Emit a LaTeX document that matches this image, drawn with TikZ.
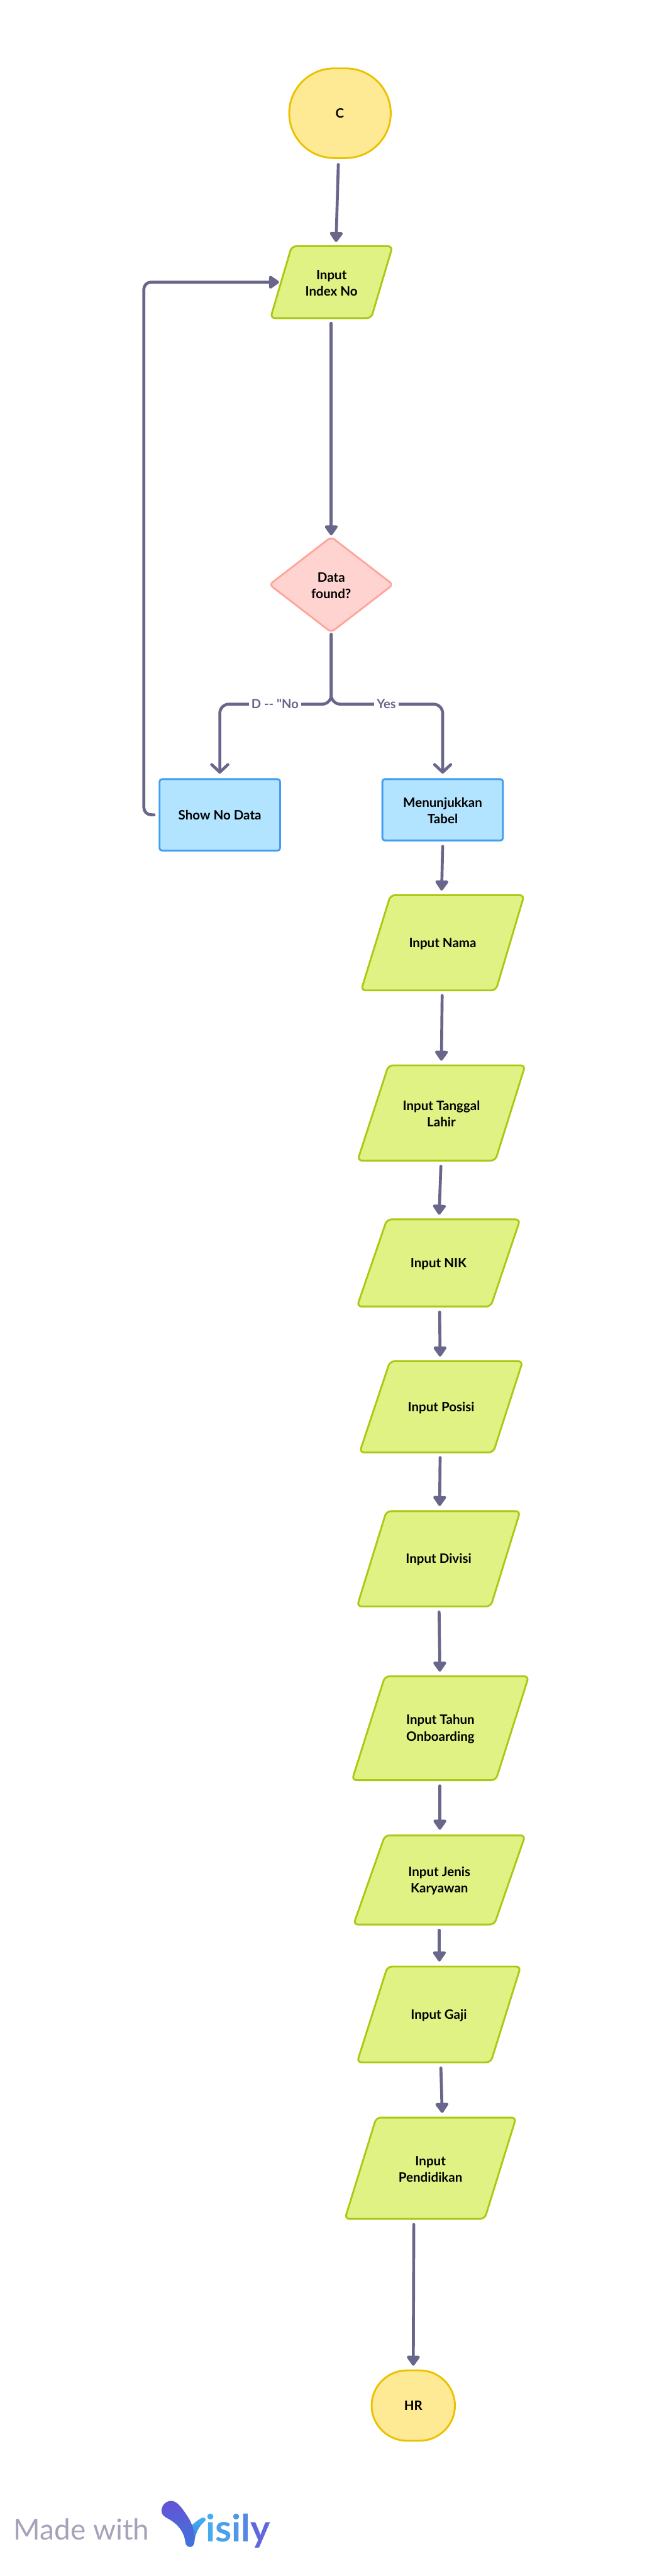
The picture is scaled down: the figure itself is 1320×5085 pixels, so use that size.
\documentclass[tikz,border=0pt]{standalone}
\usepackage{fontspec}
\usetikzlibrary{arrows.meta,calc}
\newfontfamily\nfont{Lato}
\definecolor{linec}{HTML}{68668A}
\definecolor{yfill}{HTML}{FEE994}
\definecolor{ydraw}{HTML}{ECC100}
\definecolor{gfill}{HTML}{E1F285}
\definecolor{gdraw}{HTML}{AEC714}
\definecolor{pfill}{HTML}{FFD4D0}
\definecolor{pdraw}{HTML}{FFA59C}
\definecolor{bfill}{HTML}{B3E4FF}
\definecolor{bdraw}{HTML}{439EF2}
\definecolor{logoa}{HTML}{6553D5}
\definecolor{logob}{HTML}{3F74DB}
\definecolor{logoc}{HTML}{44B2F0}
\definecolor{logod}{HTML}{3A7CDC}
\newcommand\lowr{\rule{0pt}{22.5pt}}
\tikzset{
  x=1pt,y=-1pt,
  txt/.style={font=\nfont\fontsize{25.5}{33}\selectfont\bfseries,align=center,text=black,inner sep=0pt},
  pgramshape/.style={draw=gdraw,fill=gfill,line width=3.6pt,rounded corners=9pt,line join=round},
  boxnode/.style={txt,rectangle,draw=bdraw,fill=bfill,line width=3.6pt,rounded corners=5pt},
  termshape/.style={draw=ydraw,fill=yfill,line width=3.6pt},
  decshape/.style={draw=pdraw,fill=pfill,line width=3.6pt,rounded corners=8pt,line join=round},
  flow/.style={draw=linec,line width=5.8pt,line cap=round,-{Triangle[length=22pt,width=29pt,round]}},
  flowopen/.style={draw=linec,line width=5.8pt,line cap=round,rounded corners=18pt,-{Straight Barb[length=15pt,width=32pt,round]}},
  plainflow/.style={draw=linec,line width=5.8pt,line cap=round,rounded corners=14pt,-{Triangle[length=22pt,width=29pt,round]}},
  lbl/.style={font=\nfont\fontsize{25}{28}\selectfont\bfseries,text=linec,fill=white,inner sep=0pt,inner xsep=5pt},
}
% name, TLx, TRx, BLx, BRx, top, bottom, text
\newcommand\pgram[8]{%
  \draw[pgramshape] (#2,#6) -- (#3,#6) -- (#5,#7) -- (#4,#7) -- cycle;
  \path let \n1={#3-#4}, \n2={#7-#6} in
    node[txt,rectangle,minimum width=\n1*1pt,minimum height=\n2*1pt] (#1) at ({(#3+#4)/2},{(#6+#7)/2}) {\lowr #8};
}
\begin{document}
\begin{tikzpicture}
\useasboundingbox (0,0) rectangle (1320,5085);
% terminators
\draw[termshape] (659.75,135) -- (682.75,135)
  arc[start angle=90,end angle=-90,x radius=88.75pt,y radius=88.5pt]
  -- (659.75,312) arc[start angle=-90,end angle=-270,x radius=88.75pt,y radius=88.5pt] -- cycle;
\node[txt,rectangle,minimum width=204pt,minimum height=181pt] (st) at (671,224) {C};
\pgram{inp}{576}{775}{534}{733}{486}{628}{Input\\Index No}
\draw[decshape] (654,1060) -- (776,1154) -- (654,1248) -- (532,1154) -- cycle;
\node[txt,rectangle,minimum width=238pt,minimum height=178pt] (dec) at (654,1154) {\lowr Data\\found?};
\node[boxnode,minimum width=238pt,minimum height=141pt] (nod) at (434,1608.5) {Show No Data};
\node[boxnode,minimum width=238pt,minimum height=121pt] (tab) at (874,1598.5) {\lowr Menunjukkan\\Tabel};
\pgram{nama}{771}{1035}{713}{979}{1767}{1955}{Input Nama}
\pgram{tgl}{767}{1037}{706}{978}{2103}{2291}{Input Tanggal\\Lahir}
\pgram{nik}{764}{1027}{705}{969}{2407}{2579}{Input NIK}
\pgram{pos}{770}{1032}{710}{974}{2687}{2867}{Input Posisi}
\pgram{div}{763}{1027}{705}{969}{2983}{3171}{Input Divisi}
\pgram{thn}{760}{1044}{695}{979}{3309}{3514}{Input Tahun\\Onboarding}
\pgram{jns}{760}{1037}{698}{976}{3623}{3799}{Input Jenis\\Karyawan}
\pgram{gaji}{765}{1028}{705}{969}{3882}{4071}{Input Gaji}
\pgram{pend}{743}{1019}{681}{957}{4180}{4380}{Input\\Pendidikan}
\draw[termshape] (804,4679) -- (828,4679)
  arc[start angle=90,end angle=-90,x radius=70.25pt,y radius=69.5pt]
  -- (804,4818) arc[start angle=-90,end angle=-270,x radius=70.25pt,y radius=69.5pt] -- cycle;
\node[txt,rectangle,minimum width=168pt,minimum height=143pt] (hr) at (816,4748.5) {HR};
% connectors
\draw[flow] ([xshift=-3pt,yshift=-10pt]st.south) -- ([xshift=9pt,yshift=8pt]inp.north);
\draw[flow] ([yshift=-10pt]inp.south -| dec.north) -- ([yshift=8pt]dec.north);
\coordinate (jn) at (654,1390);
\draw[flowopen] ([yshift=-9pt]dec.south) -- (jn) -- (jn -| nod.north) -- ([yshift=9pt]nod.north);
\draw[flowopen] ([yshift=-9pt]dec.south) -- (jn) -- (jn -| tab.north) -- ([yshift=9pt]tab.north);
\node[lbl] (lno) at (543,1390) {D -- "No};
\node[lbl] (lyes) at (763,1390) {Yes};
\coordinate (lpa) at (284,1608);
\coordinate (lpb) at (284,557);
\coordinate (lpc) at (551,557);
\draw[plainflow] ([xshift=-9pt]nod.west) -- (lpa) -- (lpb) -- (lpc);
\draw[flow] ([yshift=-10pt]tab.south) -- ([xshift=-2pt,yshift=9pt]nama.north);
\draw[flow] ([xshift=-1pt,yshift=-10pt]nama.south) -- ([xshift=0pt,yshift=9pt]tgl.north);
\draw[flow] ([xshift=-1pt,yshift=-11pt]tgl.south) -- ([xshift=1pt,yshift=9pt]nik.north);
\draw[flow] ([xshift=2pt,yshift=-11pt]nik.south) -- ([xshift=-2pt,yshift=9pt]pos.north);
\draw[flow] ([xshift=-2pt,yshift=-10pt]pos.south) -- ([xshift=2pt,yshift=10pt]div.north);
\draw[flow] ([xshift=1pt,yshift=-11pt]div.south) -- ([xshift=-1pt,yshift=9pt]thn.north);
\draw[flow] ([xshift=-1pt,yshift=-11pt]thn.south) -- ([xshift=1pt,yshift=11pt]jns.north);
\draw[flow] ([xshift=0pt,yshift=-11pt]jns.south) -- ([xshift=1pt,yshift=10pt]gaji.north);
\draw[flow] ([xshift=4pt,yshift=-11pt]gaji.south) -- ([xshift=23pt,yshift=9pt]pend.north);
\draw[flow] ([xshift=-33pt,yshift=-11pt]pend.south) -- ([yshift=7pt]hr.north);
% footer
\node[anchor=base west,inner sep=0pt,text=linec!60,font=\nfont\fontsize{57}{60}\selectfont] (made) at (27,5013) {Made with};
\begin{scope}[shift={(300,4920)},x=0.3333pt,y=-0.3333pt]
  \shade[top color=logoc,bottom color=logod] (238,192) .. controls (262,172) and (285,152) .. (303,149)
    .. controls (318,148) and (323,163) .. (312,172)
    .. controls (280,198) and (258,240) .. (251,290) -- (225,250) -- cycle;
  \shade[top color=logoa,bottom color=logob] (57,110)
    .. controls (57,72) and (85,50) .. (115,50)
    .. controls (150,50) and (180,95) .. (210,140)
    .. controls (240,185) and (255,235) .. (252,290)
    .. controls (250,312) and (240,323) .. (226,323)
    .. controls (210,323) and (200,312) .. (198,295)
    .. controls (192,240) and (160,190) .. (95,155)
    .. controls (70,143) and (57,130) .. (57,110) -- cycle;
\end{scope}
\node[anchor=base west,inner sep=0pt,font=\nfont\fontsize{74}{80}\selectfont\bfseries] (vis) at (406,5017)
  {\textcolor[HTML]{47ABEE}{i}\textcolor[HTML]{4C9FEA}{s}\textcolor[HTML]{4F97E8}{i}\textcolor[HTML]{5587E4}{l}\textcolor[HTML]{6068DC}{y}};
\end{tikzpicture}
\end{document}
